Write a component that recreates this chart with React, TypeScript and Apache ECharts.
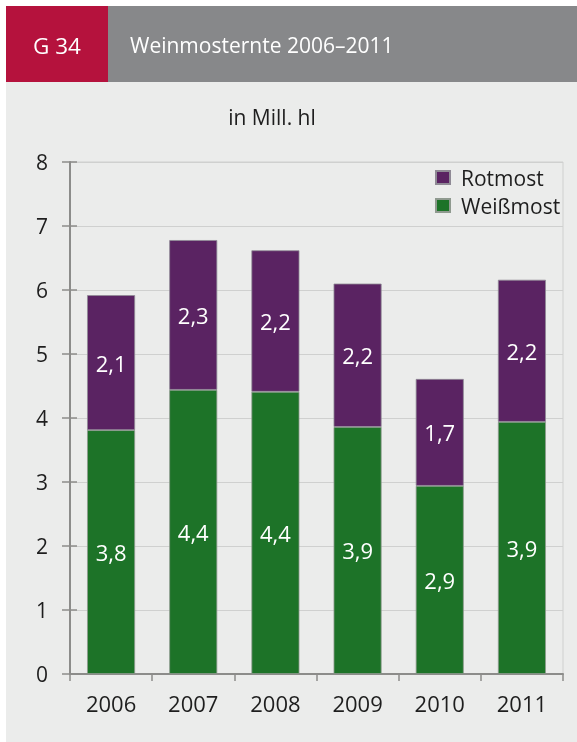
import React, { useEffect, useRef } from "react";
import * as echarts from "echarts";

const years = ["2006", "2007", "2008", "2009", "2010", "2011"];
const weissmost = [3.81, 4.44, 4.41, 3.86, 2.94, 3.94];
const rotmost = [2.11, 2.34, 2.21, 2.24, 1.67, 2.22];
const yTicks = [0, 1, 2, 3, 4, 5, 6, 7, 8];

const FONT = "'Open Sans', 'Noto Sans', sans-serif";
const fmt = (v: number) => v.toFixed(1).replace(".", ",");

export default function App() {
  const ref = useRef<HTMLDivElement>(null);
  useEffect(() => {
    if (!ref.current) return;
    const chart = echarts.init(ref.current, undefined, { renderer: "svg" });
    const totals = weissmost.map((w, i) => +(w + rotmost[i]).toFixed(2));
    const yMin = yTicks[0];
    const yMax = yTicks[yTicks.length - 1];
    chart.setOption({
      animation: false,
      textStyle: { fontFamily: FONT },
      graphic: [
        { type: "rect", z: -10, silent: true, shape: { x: 6, y: 82, width: 571, height: 660 }, style: { fill: "#ebeceb" } },
        { type: "rect", z: -10, silent: true, shape: { x: 6, y: 6, width: 102, height: 76 }, style: { fill: "#b5123d" } },
        { type: "rect", z: -10, silent: true, shape: { x: 108, y: 6, width: 469, height: 76 }, style: { fill: "#87888a" } },
        { type: "text", z: 10, x: 57, y: 45, style: { text: "G 34", fill: "#ffffff", font: `500 22.5px ${FONT}`, textAlign: "center", textVerticalAlign: "middle" } },
        { type: "text", z: 10, x: 130, y: 45, style: { text: "Weinmosternte 2006–2011", fill: "#ffffff", font: `500 21px ${FONT}`, textAlign: "left", textVerticalAlign: "middle" } },
        { type: "text", z: 10, x: 272, y: 117, style: { text: "in Mill. hl", fill: "#1e1e1e", font: `21px ${FONT}`, textAlign: "center", textVerticalAlign: "middle" } },
      ],
      legend: {
        orient: "vertical",
        left: 435,
        top: 167,
        padding: 0,
        itemWidth: 14,
        itemHeight: 13,
        itemGap: 7,
        icon: "rect",
        data: ["Rotmost", "Weißmost"],
        textStyle: { fontSize: 21, color: "#1e1e1e", fontFamily: FONT, padding: [0, 0, 0, 6] },
      },
      grid: {
        left: 70,
        right: 14,
        top: 162,
        bottom: 68,
        show: true,
        borderColor: "#cfd0cf",
        borderWidth: 1,
        backgroundColor: "transparent",
      },
      xAxis: {
        type: "category",
        data: years,
        axisLine: { lineStyle: { color: "#8c8c8a", width: 2 } },
        axisTick: { show: true, length: 7, alignWithLabel: false, lineStyle: { color: "#8c8c8a", width: 1.5 } },
        axisLabel: { fontSize: 22, color: "#1e1e1e", margin: 18, fontFamily: FONT },
      },
      yAxis: [
        {
          type: "value",
          min: yMin,
          max: yMax,
          interval: 1,
          axisLine: { show: true, lineStyle: { color: "#8c8c8a", width: 2 } },
          axisTick: { show: true, length: 8, lineStyle: { color: "#8c8c8a", width: 1.5 } },
          axisLabel: { fontSize: 21, color: "#1e1e1e", margin: 22, fontFamily: FONT },
          splitLine: { show: true, lineStyle: { color: "#cfd0cf", width: 1.2 } },
        },
        {
          type: "value",
          position: "left",
          min: yMin,
          max: yMax,
          interval: 1,
          axisLine: { show: false },
          axisTick: { show: true, inside: true, length: 7, lineStyle: { color: "#8c8c8a", width: 1.5 } },
          axisLabel: { show: false },
          splitLine: { show: false },
        },
      ],
      series: [
        {
          name: "Weißmost",
          type: "bar",
          stack: "total",
          barWidth: 48,
          data: weissmost,
          itemStyle: { color: "#1d7328", borderColor: "#8f9a8f", borderWidth: 0.8 },
          label: { show: true, position: "inside", color: "#ffffff", fontSize: 22, fontFamily: FONT, formatter: (p: any) => fmt(p.value) },
        },
        {
          name: "Rotmost",
          type: "bar",
          stack: "total",
          barWidth: 48,
          data: rotmost,
          itemStyle: { color: "#5a2362", borderColor: "#8f8a95", borderWidth: 0.8 },
          label: { show: true, position: "inside", color: "#ffffff", fontSize: 22, fontFamily: FONT, formatter: (p: any) => fmt(p.value) },
        },
        {
          name: "Summe",
          type: "line",
          data: totals,
          symbol: "none",
          lineStyle: { opacity: 0 },
          silent: true,
          z: 5,
          label: { show: true, position: "top", distance: 13, color: "#1e1e1e", fontSize: 22, fontFamily: FONT, formatter: (p: any) => fmt(p.value) },
        },
      ],
    });
    return () => chart.dispose();
  }, []);
  return <div ref={ref} style={{ position: "fixed", left: 0, top: 0, width: 577, height: 742 }} />;
}
